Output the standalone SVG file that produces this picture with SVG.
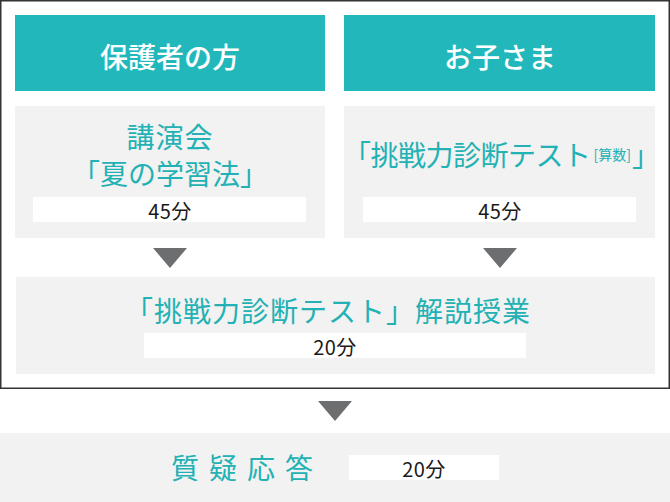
<svg xmlns="http://www.w3.org/2000/svg" width="670" height="502" viewBox="0 0 670 502">
<style>
text{font-family:"Noto Sans CJK JP","Noto Sans",sans-serif}
.hdr{fill:#22b8bb}
.box{fill:#f2f2f2}
.bar{fill:#ffffff}
.ht{fill:#ffffff;font-size:28px;font-weight:500;text-anchor:middle;dominant-baseline:central}
.tt{fill:#22b1b4;font-size:28px;dominant-baseline:central}
.mid{text-anchor:middle}
.nt{fill:#1a1a1a;font-size:20px;letter-spacing:0.5px;text-anchor:middle;dominant-baseline:central}
.arr{fill:#6d6e70}
</style>
<rect x="0.75" y="0.75" width="668.5" height="387.5" fill="#ffffff" stroke="#333333" stroke-width="1.5"/>
<g id="header-parents">
<rect class="hdr" x="15" y="15" width="310" height="76"/>
<text class="ht" x="170" y="56">保護者の方</text>
</g>
<g id="header-children">
<rect class="hdr" x="344" y="15" width="311" height="76"/>
<text class="ht" x="500" y="56">お子さま</text>
</g>
<g id="lecture">
<rect class="box" x="15" y="106" width="310" height="132"/>
<text class="tt mid" x="170" y="136" letter-spacing="1">講演会</text>
<text class="tt mid" x="170" y="173">「夏の学習法」</text>
<rect class="bar" x="33" y="197" width="273" height="25"/>
<text class="nt" x="170" y="210">45分</text>
</g>
<g id="test">
<rect class="box" x="344" y="106" width="311" height="132"/>
<text class="tt" x="343" y="154" letter-spacing="-0.5">「挑戦力診断テスト<tspan font-size="14" dx="3" letter-spacing="0">[算数]</tspan><tspan dx="1">」</tspan></text>
<rect class="bar" x="363" y="197" width="273" height="25"/>
<text class="nt" x="500" y="210">45分</text>
</g>
<g id="commentary">
<rect class="box" x="16" y="277" width="639" height="97"/>
<text class="tt" x="125" y="310" letter-spacing="1">「挑戦力診断テスト」解説授業</text>
<rect class="bar" x="144" y="333" width="382" height="25"/>
<text class="nt" x="335" y="346">20分</text>
</g>
<g id="qa">
<rect class="box" x="0" y="433" width="670" height="69"/>
<text class="tt" x="171" y="467" letter-spacing="10">質疑応答</text>
<rect class="bar" x="349" y="455" width="150" height="25"/>
<text class="nt" x="424" y="468">20分</text>
</g>
<g id="connectors">
<polygon class="arr" points="153,248 187,248 170,268"/>
<polygon class="arr" points="483,248 517,248 500,268"/>
<polygon class="arr" points="318,401 352,401 335,421"/>
</g>
</svg>
